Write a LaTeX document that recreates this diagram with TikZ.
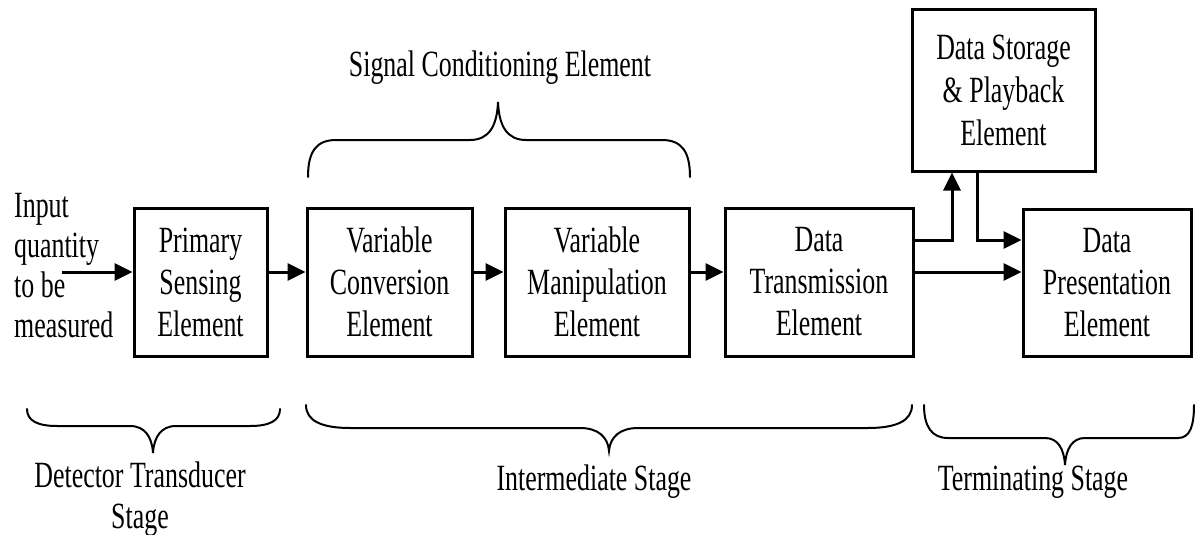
\documentclass[tikz,border=0pt]{standalone}
\usepackage{fontspec}
\setmainfont[FakeStretch=0.7]{Liberation Serif}
\usetikzlibrary{arrows.meta}
\begin{document}
\begin{tikzpicture}[x=1pt,y=-1pt,
  txt/.style={inner sep=0pt, font=\fontsize{37}{41}\selectfont, align=center},
  blk/.style={draw, line width=3pt, inner sep=0pt, align=center,
    font=\fontsize{37}{42}\selectfont,
    execute at begin node={\rule{0pt}{34pt}}},
  arr/.style={line width=3pt, -{Triangle[length=18pt,width=17pt]}},
  brc/.style={line width=2pt, line cap=round}]
\useasboundingbox (0,0) rectangle (1195,535);
% boxes
\node[blk, minimum width=133pt, minimum height=148pt] (ps) at (200.5,282) {Primary\\Sensing\\Element};
\node[blk, minimum width=165pt, minimum height=148pt] (vc) at (389.5,282) {Variable\\Conversion\\Element};
\node[blk, minimum width=184pt, minimum height=148pt] (vm) at (597,282) {Variable\\Manipulation\\Element};
\node[blk, minimum width=188pt, minimum height=148pt] (tr) at (819,282) {Data\\Transmission\\Element};
\node[blk, minimum width=168pt, minimum height=147pt] (pr) at (1107,282.5) {Data\\Presentation\\Element};
\node[blk, minimum width=183pt, minimum height=161pt, execute at begin node={},
  font=\fontsize{37}{43}\selectfont] (st) at (1003.5,90.5) {Data Storage\\\& Playback\\Element};
% texts
\node[txt, align=left, anchor=base west, font=\fontsize{37}{40}\selectfont] (inp) at (14,337) {Input\\quantity\\to be\\measured};
\node[txt, anchor=base] (sce) at (500,77) {Signal Conditioning Element};
\node[txt, anchor=base] (dts) at (140,528) {Detector Transducer\\Stage};
\node[txt, anchor=base] (ist) at (594,490) {Intermediate Stage};
\node[txt, anchor=base] (tst) at (1033,490) {Terminating Stage};
% helper coordinates
\coordinate (in0) at (62,272);
\coordinate (ay) at (0,272);
\coordinate (ay2) at (0,240);
\coordinate (c1) at (952,0);
\coordinate (c2) at (977,0);
% arrows
\draw[arr] (in0) -- (in0 -| ps.west);
\draw[arr] (ps.east |- ay) -- (vc.west |- ay);
\draw[arr] (vc.east |- ay) -- (vm.west |- ay);
\draw[arr] (vm.east |- ay) -- (tr.west |- ay);
\draw[arr] (tr.east |- ay) -- (pr.west |- ay);
\draw[arr] (tr.east |- ay2) -| (st.south -| c1);
\draw[arr] (st.south -| c2) |- (pr.west |- ay2);
% braces
\draw[brc] (308,177) .. controls (308,152) and (316,140) .. (336,140) -- (470,140)
  .. controls (489,140) and (497,126) .. (498,102)
  .. controls (499,126) and (507,140) .. (526,140) -- (662,140)
  .. controls (682,140) and (690,152) .. (690,177);
\draw[brc] (27,409) .. controls (27,421) and (38,426) .. (57,426) -- (130,426)
  .. controls (145,426) and (152,437) .. (153,453)
  .. controls (154,437) and (161,426) .. (176,426) -- (250,426)
  .. controls (269,426) and (280,421) .. (280,409);
\draw[brc] (306,405) .. controls (306,421) and (322,428) .. (350,428) -- (580,428)
  .. controls (598,428) and (608,437) .. (609,451)
  .. controls (610,437) and (620,428) .. (638,428) -- (868,428)
  .. controls (896,428) and (912,421) .. (912,405);
\draw[brc] (924,405) .. controls (924,427) and (932,438) .. (948,438) -- (1045,438)
  .. controls (1058,438) and (1064,449) .. (1065,465)
  .. controls (1066,449) and (1072,438) .. (1085,438) -- (1178,438)
  .. controls (1190,438) and (1194,426) .. (1194,405);
\end{tikzpicture}
\end{document}
